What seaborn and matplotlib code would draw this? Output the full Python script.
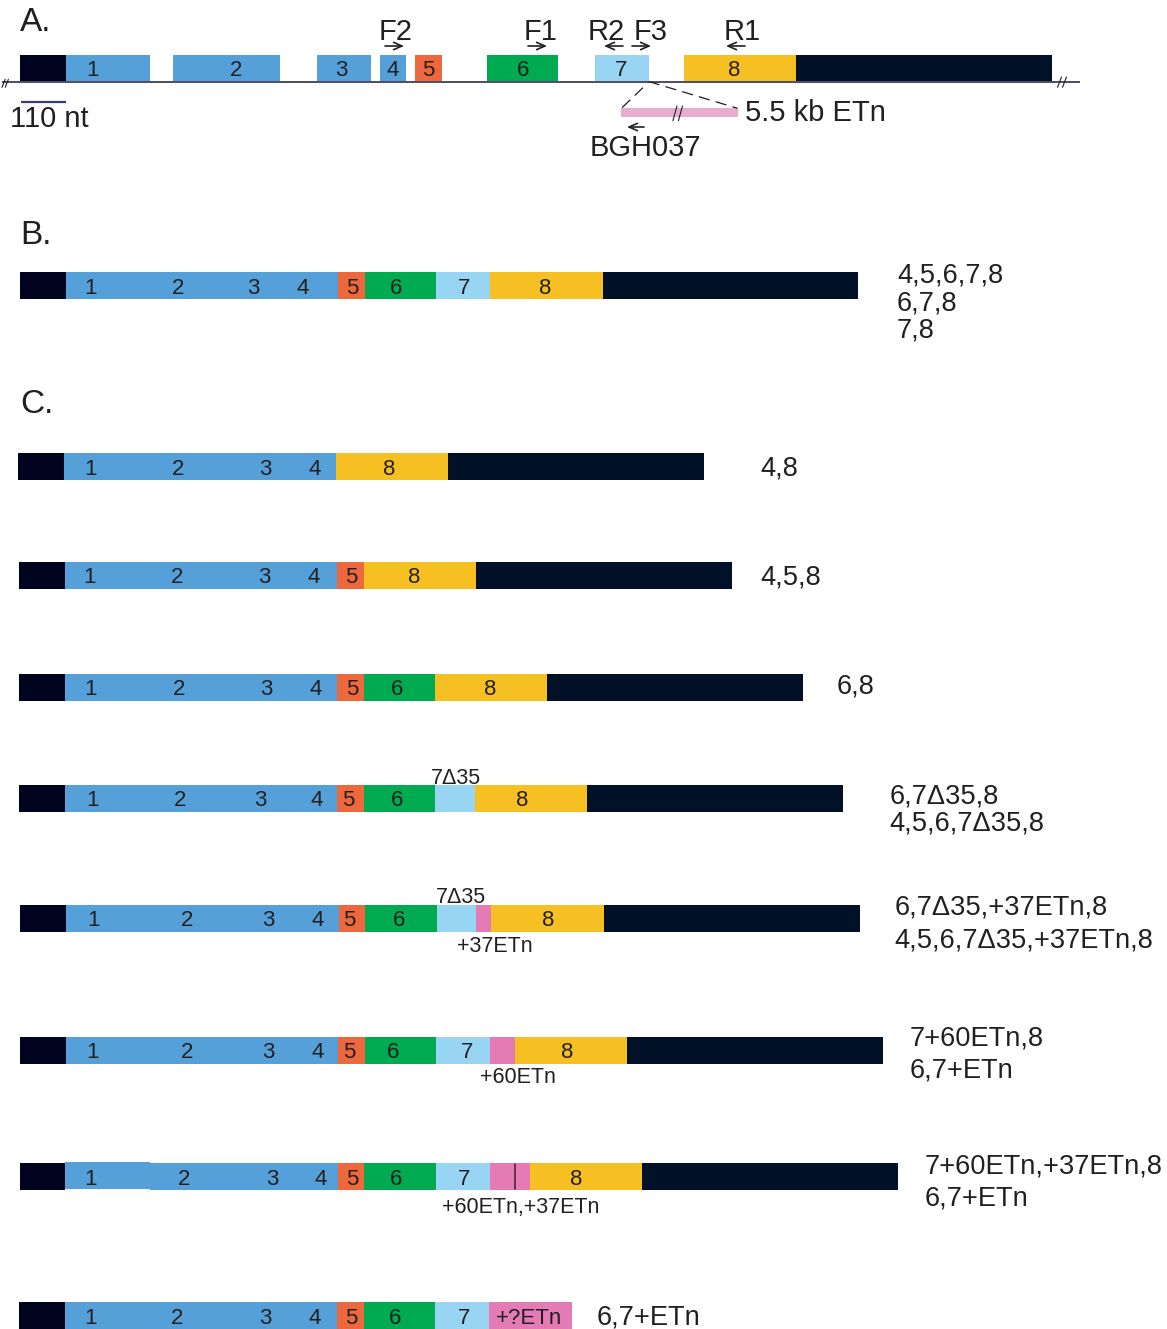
import matplotlib
matplotlib.use("Agg")
import matplotlib.pyplot as plt
import seaborn as sns
import numpy as np

# ------------------------------------------------------------------ data
# segment lengths in nt (scale bar = 110 nt)
seg_names = ['U5', 'E1', 'E2', 'E3', 'E4', 'E5', 'E6', 'E7', 'E7d35', 'E8', 'U3',
             'ETn37', 'ETn60', 'ETn60_37', 'ETnQ']
seg_nt = [110, 204, 258, 130, 64, 64, 172, 130, 95, 270, 616, 37, 60, 97, 199]
seg_kind = ['utr5', 'ex14', 'ex14', 'ex14', 'ex14', 'ex5', 'ex6', 'ex7', 'ex7', 'ex8', 'utr3',
            'etn', 'etn', 'etn', 'etn']
scale_nt = 110

# panel A: genomic structure (intron gaps are display-only, not to scale)
gen_segments = ['U5', 'E1', 'E2', 'E3', 'E4', 'E5', 'E6', 'E7', 'E8', 'U3']
gen_gaps_nt = [0, 54, 88, 22, 21, 109, 88, 84, 0]
gen_labels = ['1', '2', '3', '4', '5', '6', '7', '8']
gen_label_x = [93, 235.7, 341.4, 392.5, 428.5, 522.7, 621, 734]

primer_names = ['F2', 'F1', 'R2', 'F3', 'R1']
primer_tail_x = [385, 528, 623, 632, 745]
primer_dir = [1, 1, -1, 1, -1]
primer_label_x = [396, 541, 606, 651, 742]

# panels B / C: transcript isoforms
iso_segments = [
    ['U5', 'E1', 'E2', 'E3', 'E4', 'E5', 'E6', 'E7', 'E8', 'U3'],
    ['U5', 'E1', 'E2', 'E3', 'E4', 'E8', 'U3'],
    ['U5', 'E1', 'E2', 'E3', 'E4', 'E5', 'E8', 'U3'],
    ['U5', 'E1', 'E2', 'E3', 'E4', 'E5', 'E6', 'E8', 'U3'],
    ['U5', 'E1', 'E2', 'E3', 'E4', 'E5', 'E6', 'E7d35', 'E8', 'U3'],
    ['U5', 'E1', 'E2', 'E3', 'E4', 'E5', 'E6', 'E7d35', 'ETn37', 'E8', 'U3'],
    ['U5', 'E1', 'E2', 'E3', 'E4', 'E5', 'E6', 'E7', 'ETn60', 'E8', 'U3'],
    ['U5', 'E1', 'E2', 'E3', 'E4', 'E5', 'E6', 'E7', 'ETn60_37', 'E8', 'U3'],
    ['U5', 'E1', 'E2', 'E3', 'E4', 'E5', 'E6', 'E7', 'ETnQ'],
]
iso_bar_labels = [
    ['1', '2', '3', '4', '5', '6', '7', '8'],
    ['1', '2', '3', '4', '8'],
    ['1', '2', '3', '4', '5', '8'],
    ['1', '2', '3', '4', '5', '6', '8'],
    ['1', '2', '3', '4', '5', '6', '8'],
    ['1', '2', '3', '4', '5', '6', '8'],
    ['1', '2', '3', '4', '5', '6', '7', '8'],
    ['1', '2', '3', '4', '5', '6', '7', '8'],
    ['1', '2', '3', '4', '5', '6', '7', '+?ETn'],
]
iso_bar_label_x = [
    [90.5, 178, 252.9, 302.4, 352, 395.9, 463.6, 544.8],
    [90.5, 178, 265, 315, 389.5],
    [89.7, 177, 264.4, 314, 351.5, 414],
    [91, 178.8, 266, 315.8, 352.7, 396.6, 490],
    [92, 179.9, 260.7, 316.5, 347.8, 397, 522],
    [93.8, 187, 268, 317.7, 349, 399, 548.5],
    [93, 187, 268, 317.7, 349, 393, 466.6, 566.8],
    [90.5, 184, 272, 321, 352, 396, 464, 576.5],
    [90.5, 177, 265, 314.7, 351.5, 395.5, 463.6, 528.8],
]
iso_names = [
    ['4,5,6,7,8', '6,7,8', '7,8'],
    ['4,8'],
    ['4,5,8'],
    ['6,8'],
    ['6,7Δ35,8', '4,5,6,7Δ35,8'],
    ['6,7Δ35,+37ETn,8', '4,5,6,7Δ35,+37ETn,8'],
    ['7+60ETn,8', '6,7+ETn'],
    ['7+60ETn,+37ETn,8', '6,7+ETn'],
    ['6,7+ETn'],
]
iso_notes = [
    [], [], [], [],
    [('7Δ35', 456.2, 775.8)],
    [('7Δ35', 460.6, 895.0), ('+37ETn', 494.5, 944.2)],
    [('+60ETn', 517.6, 1075.3)],
    [('+60ETn,+37ETn', 520.5, 1205.5)],
    [],
]

# ------------------------------------------------------------------ layout / style
W, H = 1167, 1329
px_per_nt = 45.7 / scale_nt
seg_px = {n: v * px_per_nt for n, v in zip(seg_names, seg_nt)}
kind_of = dict(zip(seg_names, seg_kind))
colors = {'utr5': '#00041f', 'utr3': '#011128', 'ex14': '#55a0d8', 'ex5': '#ee683d',
          'ex6': '#00aa50', 'ex7': '#97d5f2', 'ex8': '#f6bf22', 'etn': '#e57bb5'}
txt = '#231f20'

iso_x0 = [20.1, 17.9, 19.0, 19.0, 19.0, 20.3, 19.9, 19.6, 19.0]
iso_top = [272.3, 453.3, 562.0, 674.0, 785.0, 905.0, 1037.0, 1163.3, 1302.3]
iso_name_x = [897, 760.7, 760.7, 836.6, 889.7, 894.6, 909.4, 925, 597]
iso_name_y = [[272.8, 300.8, 327.5], [465.5], [574.5], [684], [793.3, 821],
              [904.5, 937.8], [1035.5, 1067.5], [1163.7, 1195.8], [1315]]
bar_h = 26.7

sns.set_theme(style='white')
plt.rcParams['font.family'] = ['Liberation Sans', 'DejaVu Sans']

fig = plt.figure(figsize=(W / 100, H / 100), dpi=100)
ax = fig.add_axes([0, 0, 1, 1])
ax.set_xlim(0, W)
ax.set_ylim(H, 0)
ax.axis('off')

PT = 100 / 72.0


def put(x, yc, s, size, ha='center'):
    """place text so that cap-height centre sits at yc"""
    ax.text(x, yc + 0.358 * size * PT, s, fontsize=size, color=txt, ha=ha,
            va='baseline', zorder=6)


def draw_row(names, x0, top, h, gaps=None, dy=None):
    x = x0
    runs = []
    for i, n in enumerate(names):
        w = seg_px[n]
        c = colors[kind_of[n]]
        d = (dy or {}).get(n, 0)
        if runs and runs[-1][2] == c and runs[-1][3] == d and abs(runs[-1][0] + runs[-1][1] - x) < 1e-6:
            runs[-1][1] += w
        else:
            runs.append([x, w, c, d])
        x += w
        if gaps is not None and i < len(gaps):
            x += gaps[i] * px_per_nt
    for rx, rw, rc, rd in runs:
        ax.barh(top + rd + h / 2, rw, left=rx, height=h, color=rc, linewidth=0, zorder=3)
    return x


arrow_style = dict(arrowstyle='->,head_length=0.5,head_width=0.22',
                   lw=1.2, color=txt, shrinkA=0, shrinkB=0)

# ------------------------------------------------------------------ panel A
put(20, 19.5, 'A.', 24, ha='left')
ax.plot([1.7, 1080], [81.5, 81.5], color='#1b1b3b', lw=1.1, zorder=4, solid_capstyle='butt')
draw_row(gen_segments, 19.9, 55, 26, gaps=gen_gaps_nt)
for s, x in zip(gen_labels, gen_label_x):
    put(x, 68, s, 16)
# break marks on the genomic line
for bx in (2.0, 5.2):
    ax.plot([bx, bx + 3.2], [87.3, 79.3], color=txt, lw=0.8, zorder=5)
for bx in (1057.5, 1062.5):
    ax.plot([bx, bx + 4], [87.3, 77], color=txt, lw=0.8, zorder=5)

for name, tx, d, lx in zip(primer_names, primer_tail_x, primer_dir, primer_label_x):
    put(lx, 29.7, name, 21)
    ax.annotate('', xy=(tx + d * 19, 46), xytext=(tx, 46), arrowprops=arrow_style, zorder=6)

# scale bar
ax.plot([21, 65.7], [101.7, 101.7], color='#3c3a7a', lw=1.6, solid_capstyle='butt')
put(10, 117, '110 nt', 21, ha='left')

# ETn insertion
ax.barh(112.7, 116.1, left=621.4, height=9.3, color='#e6adcf', linewidth=0, zorder=3)
for bx in (672.9, 678.4):
    ax.plot([bx, bx + 4.1], [120.7, 106], color=txt, lw=0.8, zorder=5)
ax.plot([648.6, 737.5], [81.5, 108.3], color=txt, lw=0.9, ls=(0, (9, 5)), zorder=4)
ax.plot([642.9, 621.4], [87.7, 108.3], color=txt, lw=0.9, ls=(0, (9, 5)), zorder=4)
put(745.2, 110.5, '5.5 kb ETn', 21, ha='left')
ax.annotate('', xy=(627, 127), xytext=(644, 127), arrowprops=arrow_style, zorder=6)
put(645.7, 146, 'BGH037', 21)

# ------------------------------------------------------------------ panels B / C
put(20, 232.5, 'B.', 24, ha='left')
put(20, 401.0, 'C.', 24, ha='left')

for i, names in enumerate(iso_segments):
    dy = {'E1': -1.2} if i == 7 else None
    draw_row(names, iso_x0[i], iso_top[i], bar_h, dy=dy)
    yc = iso_top[i] + bar_h / 2
    for s, x in zip(iso_bar_labels[i], iso_bar_label_x[i]):
        put(x, yc, s, 16)
    for s, x, y in iso_notes[i]:
        put(x, y, s, 15.5)
    for s, y in zip(iso_names[i], iso_name_y[i]):
        put(iso_name_x[i], y, s, 19.6, ha='left')
    if 'ETn60_37' in names:
        k = names.index('ETn60_37')
        xs = iso_x0[i] + sum(seg_px[n] for n in names[:k]) + seg_px['ETn60']
        ax.plot([xs, xs], [iso_top[i] + 1, iso_top[i] + bar_h - 1], color='#4a2a3c', lw=1.2, zorder=5)

fig.savefig('out.png', dpi=100)
